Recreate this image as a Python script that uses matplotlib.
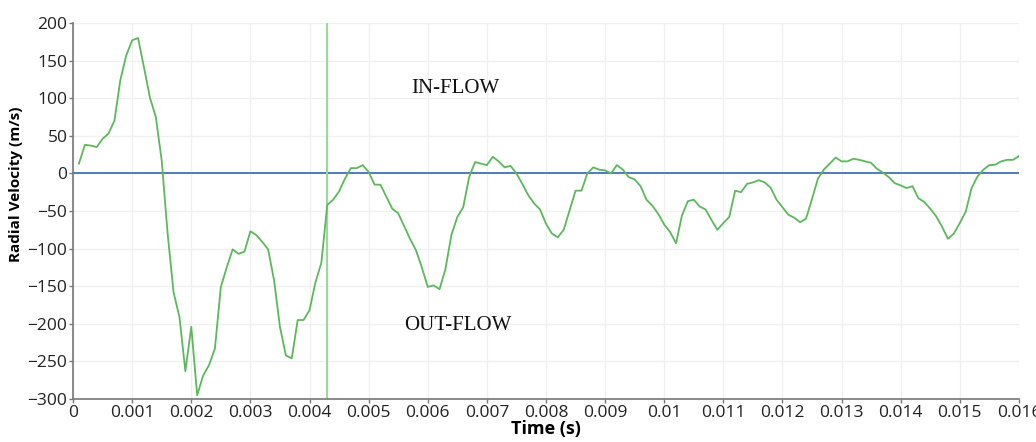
import matplotlib.pyplot as plt
import numpy as np

# radial velocity samples, every 0.1 ms from 0.0001 s to 0.016 s
time_s = np.round(np.arange(1, 161) * 0.0001, 4)
velocity = [
    13, 38, 37, 35, 46, 53, 70, 124, 157, 177,
    180, 141, 101, 75, 17, -80, -158, -191, -263, -204,
    -295, -269, -255, -233, -151, -125, -101, -107, -104, -77,
    -82, -91, -101, -142, -204, -242, -246, -195, -195, -182,
    -145, -119, -42, -35, -24, -7, 7, 7, 11, 2,
    -15, -15, -31, -47, -53, -70, -87, -102, -125, -151,
    -149, -154, -127, -82, -58, -45, -5, 15, 13, 11,
    22, 16, 8, 10, 0, -14, -29, -40, -48, -67,
    -80, -85, -75, -49, -23, -23, 0, 8, 5, 4,
    0, 11, 5, -5, -8, -17, -35, -43, -54, -68,
    -78, -93, -56, -37, -35, -44, -48, -62, -75, -66,
    -58, -23, -25, -14, -12, -9, -12, -19, -35, -45,
    -55, -59, -65, -60, -34, -7, 5, 13, 21, 16,
    16, 19.5, 18, 16, 14, 6, 1, -5, -13, -16,
    -19.5, -17, -33, -38, -47, -57, -71, -87, -80, -66,
    -51, -19.5, -4, 5, 11, 11.5, 16, 18, 18, 23,
]
marker_time = 0.0043
x_ticks = np.round(np.arange(0, 0.0161, 0.001), 3)
y_ticks = np.arange(-300, 201, 50)

plt.rcParams['font.family'] = ['Open Sans', 'DejaVu Sans']

fig = plt.figure(figsize=(10.36, 4.42), dpi=100)
ax = fig.add_axes([0.0705, 0.0973, 0.913, 0.8507])

ax.plot(time_s, velocity, color='#5cb85c', lw=1.3, zorder=3)
ax.axhline(0, color='#4a7ebb', lw=1.4, zorder=2)
ax.axvline(marker_time, color='#96dc8f', lw=1.4, zorder=2)

ax.text(0.00646, 113, "IN-FLOW", family='Liberation Serif', fontsize=15,
        ha='center', va='center', color='#111111')
ax.text(0.00651, -202, "OUT-FLOW", family='Liberation Serif', fontsize=15,
        ha='center', va='center', color='#111111')

ax.set_xlim(0, 0.016)
ax.set_ylim(-300, 200)
ax.set_xticks(x_ticks)
ax.set_xticklabels(['0' if v == 0 else f'{v:g}' for v in x_ticks])
ax.set_yticks(y_ticks)

ax.grid(True, color='#f0f0f0', lw=1)
ax.set_axisbelow(True)
for s in ['top', 'right']:
    ax.spines[s].set_visible(False)
for s in ['left', 'bottom']:
    ax.spines[s].set_color('#777777')
    ax.spines[s].set_linewidth(1.2)
ax.tick_params(axis='both', length=3, width=1, color='#777777',
               labelsize=12.5, labelcolor='#222222', pad=1)

ax.set_xlabel("Time (s)", fontsize=13, fontweight='bold')
ax.xaxis.set_label_coords(0.5, -0.056)
ax.set_ylabel("Radial Velocity (m/s)", fontsize=11, fontweight='bold')
ax.yaxis.set_label_coords(-0.053, 0.572)

fig.savefig("out.png", dpi=100)
